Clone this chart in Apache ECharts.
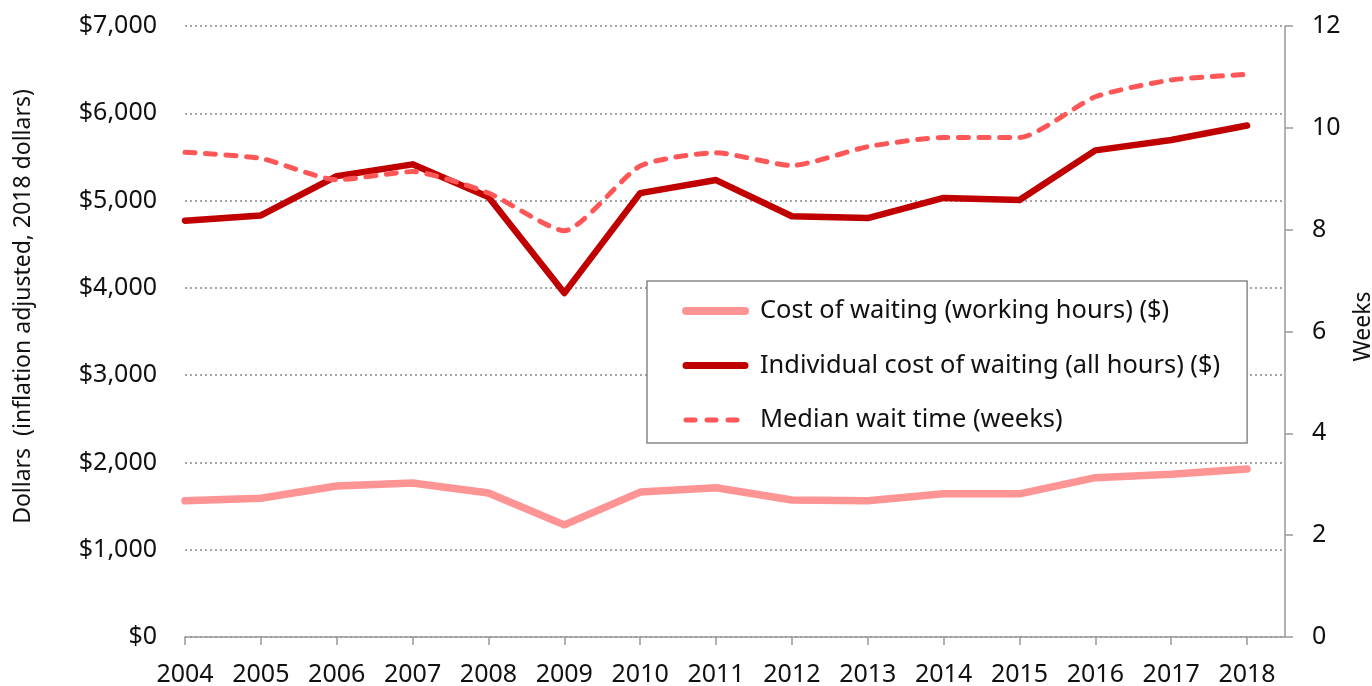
<!DOCTYPE html>
<html>
<head>
<meta charset="utf-8">
<style>
    html, body { margin: 0; padding: 0; background: #fff; }
    #chart { width: 1372px; height: 686px; }
</style>
<script src="https://cdn.jsdelivr.net/npm/echarts@6/dist/echarts.min.js"></script>
</head>
<body>
<div id="chart"></div>
<script>
// data
var years = [2004, 2005, 2006, 2007, 2008, 2009, 2010, 2011, 2012, 2013, 2014, 2015, 2016, 2017, 2018];
var costWorking = [1560, 1590, 1730, 1765, 1650, 1285, 1660, 1710, 1570, 1560, 1640, 1640, 1825, 1865, 1925];
var costAll = [4770, 4830, 5280, 5415, 5040, 3940, 5085, 5235, 4820, 4800, 5030, 5006, 5575, 5694, 5860];
var medianWeeks = [9.52, 9.4, 8.98, 9.14, 8.72, 7.98, 9.25, 9.51, 9.26, 9.63, 9.81, 9.81, 10.61, 10.94, 11.05];

var names = [
    'Cost of waiting (working hours) ($)',
    'Individual cost of waiting (all hours) ($)',
    'Median wait time (weeks)'
];
var font = 'Noto Sans';

function pairs(vals) {
    return years.map(function (y, i) { return [y, vals[i]]; });
}

var chart = echarts.init(document.getElementById('chart'));

// hide the little circle ECharts puts in the middle of a line legend icon
var noDot = { opacity: 0 };

var option = {
    animation: false,
    grid: { left: 185, right: 87, top: 26, bottom: 49, outerBoundsMode: 'none' },
    legend: {
        orient: 'vertical',
        left: 647,
        top: 281,
        padding: [15, 27, 8, 35],
        itemGap: 24.5,
        itemWidth: 59,
        itemHeight: 10,
        borderColor: '#888',
        borderWidth: 1.5,
        backgroundColor: '#fff',
        selectedMode: false,
        textStyle: { fontFamily: font, fontSize: 25.4, lineHeight: 30, color: '#111', padding: [0, 0, 0, 10] },
        data: [
            { name: names[0], itemStyle: noDot, lineStyle: { width: 8, cap: 'round' } },
            { name: names[1], itemStyle: noDot, lineStyle: { width: 7, cap: 'round' } },
            { name: names[2], itemStyle: noDot, lineStyle: { width: 5, cap: 'round', type: [9, 12] } }
        ]
    },
    xAxis: {
        type: 'value',
        min: 2004,
        max: 2018.5,
        interval: 1,
        splitLine: { show: false },
        axisLine: { lineStyle: { color: '#999', width: 1.5 } },
        axisTick: { length: 8, lineStyle: { color: '#999', width: 1.5 }, customValues: years },
        axisLabel: {
            customValues: years,
            fontFamily: font, fontSize: 25, color: '#111', margin: 25,
            formatter: function (v) { return String(v); }
        }
    },
    yAxis: [{
        type: 'value',
        min: 0,
        max: 7000,
        interval: 1000,
        name: 'Dollars  (inflation adjusted, 2018 dollars)',
        nameLocation: 'middle',
        nameGap: 150,
        nameTextStyle: { fontFamily: font, fontSize: 23, color: '#111', padding: [0, 0, 0, 50] },
        axisLine: { show: false },
        axisTick: { show: false },
        axisLabel: {
            fontFamily: font, fontSize: 25, color: '#111', margin: 28,
            formatter: function (v) { return '$' + v.toLocaleString('en-US'); }
        },
        splitLine: { lineStyle: { color: '#888', width: 1.5, type: [2, 3] } }
    }, {
        type: 'value',
        min: 0,
        max: 12,
        interval: 2,
        position: 'right',
        name: 'Weeks',
        nameLocation: 'middle',
        nameGap: 58,
        nameTextStyle: { fontFamily: font, fontSize: 23, color: '#111', padding: [0, 0, 0, 10] },
        axisLine: { show: true, lineStyle: { color: '#999', width: 1.5 } },
        axisTick: { show: true, length: 8, lineStyle: { color: '#999', width: 1.5 } },
        axisLabel: { fontFamily: font, fontSize: 25, color: '#111', margin: 27 },
        splitLine: { show: false }
    }],
    series: [{
        name: names[0],
        type: 'line',
        yAxisIndex: 0,
        symbol: 'none',
        color: '#FF9494',
        lineStyle: { width: 7.5, color: '#FF9494', cap: 'round', join: 'round' },
        data: pairs(costWorking)
    }, {
        name: names[1],
        type: 'line',
        yAxisIndex: 0,
        symbol: 'none',
        color: '#C00000',
        lineStyle: { width: 6.5, color: '#C00000', cap: 'round', join: 'round' },
        data: pairs(costAll)
    }, {
        name: names[2],
        type: 'line',
        yAxisIndex: 1,
        symbol: 'none',
        smooth: 0.2,
        color: '#FF5757',
        lineStyle: { width: 5, color: '#FF5757', type: [10, 10.5], cap: 'round', join: 'round' },
        data: pairs(medianWeeks)
    }]
};

chart.setOption(option);
</script>
</body>
</html>
